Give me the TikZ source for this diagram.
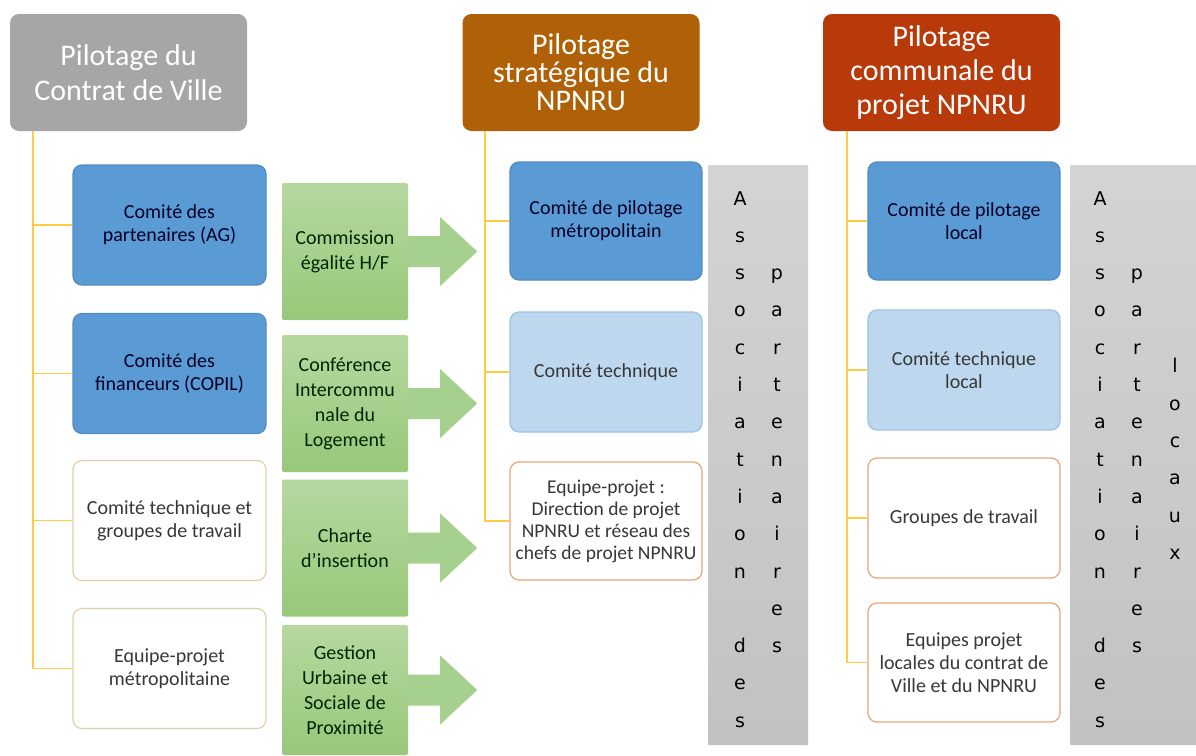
\documentclass[tikz,border=0pt]{standalone}
\usepackage{fontspec}
\setmainfont{Carlito}
\newfontfamily\lettrefont{DejaVu Sans}

\definecolor{grisTitre}{RGB}{166,166,166}
\definecolor{brunTitre}{RGB}{176,96,6}
\definecolor{rougeTitre}{RGB}{184,58,10}
\definecolor{bleuFonce}{RGB}{91,155,213}
\definecolor{bleuClair}{RGB}{189,215,238}
\definecolor{bordClair}{RGB}{157,195,230}
\definecolor{bordBeige}{RGB}{226,207,168}
\definecolor{bordOrange}{RGB}{232,166,120}
\definecolor{vertHaut}{RGB}{182,216,160}
\definecolor{vertBas}{RGB}{152,200,122}
\definecolor{vertFleche}{RGB}{166,208,142}
\definecolor{jaune}{RGB}{255,204,70}
\definecolor{texteSombre}{RGB}{56,56,56}

\begin{document}
\begin{tikzpicture}[%
      x=1pt, y=-1pt,
      titre/.style={rounded corners=9pt, minimum width=237pt, minimum height=117pt,
        text=white, align=center, font=\fontsize{30}{35}\selectfont},
      boite/.style={rounded corners=9pt, minimum width=193pt, minimum height=120pt,
        line width=1.2pt, align=center, font=\fontsize{20}{23}\selectfont},
      bleu/.style={boite, fill=bleuFonce, draw=bleuFonce!90!black, text=black!85!blue},
      clair/.style={boite, fill=bleuClair, draw=bordClair, text=texteSombre},
      blanc/.style={boite, fill=white, draw=bordBeige, text=texteSombre},
      blancorange/.style={boite, fill=white, draw=bordOrange, text=texteSombre},
      vert/.style={rounded corners=2pt, minimum width=126pt, minimum height=137pt,
        top color=vertHaut, bottom color=vertBas, align=center, text=black!85!green,
        font=\fontsize{20}{25}\selectfont},
      barre/.style={rounded corners=1pt, top color=black!17, bottom color=black!24},
      lettre/.style={anchor=base, inner sep=0pt, font=\lettrefont\fontsize{19}{19}\selectfont},
      lien/.style={draw=jaune, line width=1.8pt},
      ]
      \fill[white] (0,0) rectangle (1196,755);
      \useasboundingbox (0,0) rectangle (1196,755);

      \node[titre, fill=grisTitre] (T1) at (128.5,72.5) {Pilotage du\\Contrat de Ville};
      \node[titre, fill=brunTitre, font=\fontsize{30}{28}\selectfont] (T2) at (581,72.5) {Pilotage\\stratégique du\\NPNRU};
      \node[titre, fill=rougeTitre, font=\fontsize{30}{34}\selectfont] (T3) at (941.5,72.5) {Pilotage\\communale du\\projet NPNRU};

      \node[bleu] (L1) at (169.5,225) {Comité des\\partenaires (AG)};
      \node[bleu] (L2) at (169.5,373.5) {Comité des\\financeurs (COPIL)};
      \node[blanc] (L3) at (169.5,520.5) {Comité technique et\\groupes de travail};
      \node[blanc] (L4) at (169.5,668.5) {Equipe-projet\\métropolitaine};

      \node[vert] (G1) at (345,251.5) {Commission\\égalité H/F};
      \node[vert] (G2) at (345,403.5) {Conférence\\Intercommu\\nale du\\Logement};
      \node[vert] (G3) at (345,548) {Charte\\d’insertion};
      \node[vert, minimum height=130pt] (G4) at (345,690) {Gestion\\Urbaine et\\Sociale de\\Proximité};

      \foreach \g in {G1,G2,G3,G4}
        \fill[vertFleche] (\g.east) ++(-1,-15.5) -- ++(33,0) -- ++(0,-19) -- ++(37,34.5)
          -- ++(-37,34.5) -- ++(0,-19) -- ++(-33,0) -- cycle;

      \node[bleu, minimum width=192pt, minimum height=118pt] (M1) at (606,221) {Comité de pilotage\\métropolitain};
      \node[clair, minimum width=192pt] (M2) at (606,372) {Comité technique};
      \node[blancorange, minimum width=192pt, minimum height=118pt, font=\fontsize{19.5}{22}\selectfont] (M3) at (606,521)
        {Equipe-projet :\\Direction de projet\\NPNRU et réseau des\\chefs de projet NPNRU};

      \node[bleu, minimum width=192pt, minimum height=118pt] (R1) at (964,221) {Comité de pilotage\\local};
      \node[clair, minimum width=192pt] (R2) at (964,370) {Comité technique\\local};
      \node[blancorange, minimum width=192pt] (R3) at (964,518) {Groupes de travail};
      \node[blancorange, minimum width=192pt, minimum height=119pt] (R4) at (964,662.5)
        {Equipes projet\\locales du contrat de\\Ville et du NPNRU};

      \foreach \b in {L1,L2,L3,L4}
        \draw[lien] ([xshift=23pt]T1.south west) |- (\b.west);
      \foreach \b in {M1,M2,M3}
        \draw[lien] ([xshift=23pt]T2.south west) |- (\b.west);
      \foreach \b in {R1,R2,R3,R4}
        \draw[lien] ([xshift=24pt]T3.south west) |- (\b.west);

      \node[barre, minimum width=100pt, minimum height=580pt] (AP) at (758,455) {};
      \node[barre, minimum width=130pt, minimum height=580pt] (AL) at (1135,455) {};

      \foreach \c/\i in {A/0,s/1,s/2,o/3,c/4,i/5,a/6,t/7,i/8,o/9,n/10,d/12,e/13,s/14}
        {
        \node[lettre] (pa\i) at (740,205+37.3*\i) {\c};
        \node[lettre] (la\i) at (1100,205+37.3*\i) {\c};
        }
      \foreach \c/\i in {p/2,a/3,r/4,t/5,e/6,n/7,a/8,i/9,r/10,e/11,s/12}
        {
        \node[lettre] (pb\i) at (777,205+37.3*\i) {\c};
        \node[lettre] (lb\i) at (1137,205+37.3*\i) {\c};
        }
      \foreach \c/\i in {l/4.5,o/5.5,c/6.5,a/7.5,u/8.5,x/9.5}
        \node[lettre] (lc\i) at (1175,205+37.3*\i) {\c};
      \end{tikzpicture}
\end{document}
